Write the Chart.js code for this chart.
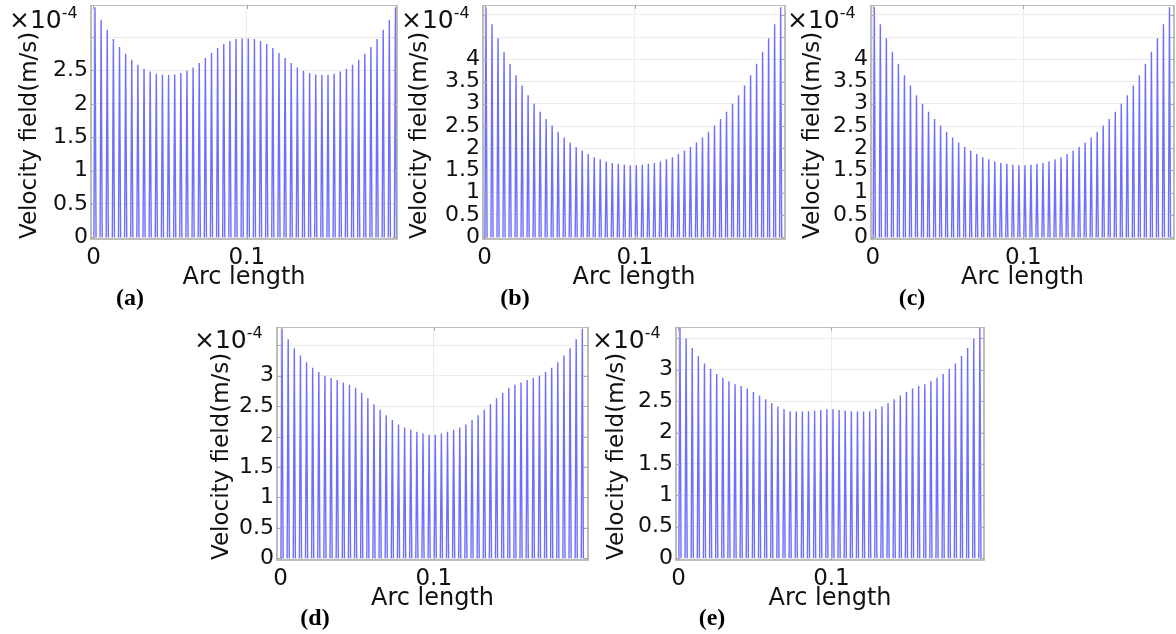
<!DOCTYPE html>
<html>
<head>
<meta charset="utf-8">
<script src="https://cdn.jsdelivr.net/npm/chart.js@4.4.1/dist/chart.umd.min.js"></script>
<style>
  html, body { margin: 0; padding: 0; background: #fff; overflow: hidden; }
  body { width: 1176px; height: 634px; position: relative; font-family: "DejaVu Sans", sans-serif; }
  canvas { position: absolute; }
  .exp { position: absolute; font-size: 25px; line-height: 1; color: #111; white-space: nowrap; }
  .exp sup { font-size: 16px; vertical-align: 0; position: relative; top: -10px; }
  .tag { position: absolute; width: 60px; text-align: center; line-height: 1;
         font-family: "Liberation Serif", serif; font-weight: bold; font-size: 24px; color: #000; }
</style>
</head>
<body>
<canvas id="pa"></canvas>
<canvas id="pb"></canvas>
<canvas id="pc"></canvas>
<canvas id="pd"></canvas>
<canvas id="pe"></canvas>

<div class="exp" style="left:9px;top:7px">×10<sup>-4</sup></div>
<div class="exp" style="left:401px;top:7px">×10<sup>-4</sup></div>
<div class="exp" style="left:787px;top:7px">×10<sup>-4</sup></div>
<div class="exp" style="left:194px;top:327px">×10<sup>-4</sup></div>
<div class="exp" style="left:592px;top:327px">×10<sup>-4</sup></div>

<div class="tag" style="left:100px;top:285px">(a)</div>
<div class="tag" style="left:485px;top:285px">(b)</div>
<div class="tag" style="left:882px;top:285px">(c)</div>
<div class="tag" style="left:285px;top:605px">(d)</div>
<div class="tag" style="left:682px;top:605px">(e)</div>

<script>
// ===== DATA (velocity in units of 1e-4 m/s) =====
const peakX = [0.001, 0.005, 0.009, 0.013, 0.017, 0.021, 0.025, 0.029, 0.033, 0.037,
               0.041, 0.045, 0.049, 0.053, 0.057, 0.061, 0.065, 0.069, 0.073, 0.077,
               0.081, 0.085, 0.089, 0.093, 0.097, 0.101, 0.105, 0.109, 0.113, 0.117,
               0.121, 0.125, 0.129, 0.133, 0.137, 0.141, 0.145, 0.149, 0.153, 0.157,
               0.161, 0.165, 0.169, 0.173, 0.177, 0.181, 0.185, 0.189, 0.193, 0.197];
const tickX = [0, 0.1];

const velA = [3.445, 3.26, 3.11, 2.97, 2.85, 2.75, 2.66, 2.585, 2.525, 2.485,
              2.45, 2.435, 2.43, 2.44, 2.46, 2.495, 2.545, 2.61, 2.685, 2.76,
              2.835, 2.895, 2.94, 2.97, 2.98, 2.98, 2.97, 2.94, 2.895, 2.835,
              2.76, 2.685, 2.61, 2.545, 2.495, 2.46, 2.44, 2.43, 2.435, 2.45,
              2.485, 2.525, 2.585, 2.66, 2.75, 2.85, 2.97, 3.11, 3.26, 3.445];
const velB = [5.17, 4.79, 4.47, 4.17, 3.90, 3.64, 3.41, 3.19, 3.00, 2.82,
              2.66, 2.51, 2.37, 2.24, 2.13, 2.03, 1.95, 1.87, 1.80, 1.75,
              1.70, 1.67, 1.65, 1.63, 1.62, 1.62, 1.63, 1.65, 1.67, 1.70,
              1.75, 1.80, 1.87, 1.95, 2.03, 2.13, 2.24, 2.37, 2.51, 2.66,
              2.82, 3.00, 3.19, 3.41, 3.64, 3.90, 4.17, 4.47, 4.79, 5.17];
const velC = [5.17, 4.79, 4.47, 4.17, 3.90, 3.64, 3.41, 3.19, 3.00, 2.82,
              2.66, 2.51, 2.37, 2.24, 2.13, 2.03, 1.95, 1.87, 1.80, 1.75,
              1.70, 1.67, 1.65, 1.63, 1.62, 1.62, 1.63, 1.65, 1.67, 1.70,
              1.75, 1.80, 1.87, 1.95, 2.03, 2.13, 2.24, 2.37, 2.51, 2.66,
              2.82, 3.00, 3.19, 3.41, 3.64, 3.90, 4.17, 4.47, 4.79, 5.17];
const velD = [3.77, 3.60, 3.45, 3.33, 3.22, 3.13, 3.06, 3.00, 2.96, 2.93,
              2.89, 2.85, 2.80, 2.72, 2.63, 2.53, 2.44, 2.35, 2.27, 2.20,
              2.15, 2.11, 2.08, 2.05, 2.03, 2.03, 2.05, 2.08, 2.11, 2.15,
              2.20, 2.27, 2.35, 2.44, 2.53, 2.63, 2.72, 2.80, 2.85, 2.89,
              2.93, 2.96, 3.00, 3.06, 3.13, 3.22, 3.33, 3.45, 3.60, 3.77];
const velE = [3.675, 3.495, 3.345, 3.22, 3.10, 3.01, 2.93, 2.87, 2.815, 2.77,
              2.74, 2.70, 2.645, 2.59, 2.53, 2.47, 2.415, 2.375, 2.34, 2.335,
              2.335, 2.34, 2.35, 2.36, 2.37, 2.37, 2.36, 2.35, 2.34, 2.335,
              2.335, 2.34, 2.375, 2.415, 2.47, 2.53, 2.59, 2.645, 2.70, 2.74,
              2.77, 2.815, 2.87, 2.93, 3.01, 3.10, 3.22, 3.345, 3.495, 3.675];

// ===== LAYOUT =====
const AXIS_W = 91;   // y axis + title strip
const AXIS_H = 56;   // x ticks + title strip
const spikeHalf = 0.0007;
const FONT = 'DejaVu Sans';

// each spike rises from zero to its peak and falls back
function spikes(vals) {
  const pts = [];
  peakX.forEach((x, i) => {
    pts.push({ x: x - spikeHalf, y: 0 }, { x: x, y: vals[i] }, { x: x + spikeHalf, y: 0 }, { x: x + spikeHalf, y: null });
  });
  return pts;
}

// grey box round the plot + small inner ticks
const framePlugin = {
  id: 'frame',
  afterDraw(chart) {
    const { ctx, chartArea: a, scales } = chart;
    ctx.save();
    ctx.strokeStyle = '#a8a8a8';
    ctx.lineWidth = 1;
    scales.y.ticks.forEach(t => {
      const py = Math.round(scales.y.getPixelForValue(t.value)) + 0.5;
      ctx.beginPath();
      ctx.moveTo(a.left, py); ctx.lineTo(a.left + 4, py);
      ctx.moveTo(a.right, py); ctx.lineTo(a.right - 4, py);
      ctx.stroke();
    });
    scales.x.ticks.forEach(t => {
      const px = Math.round(scales.x.getPixelForValue(t.value)) + 0.5;
      ctx.beginPath();
      ctx.moveTo(px, a.bottom); ctx.lineTo(px, a.bottom - 4);
      ctx.moveTo(px, a.top); ctx.lineTo(px, a.top + 4);
      ctx.stroke();
    });
    ctx.lineWidth = 1.5;
    ctx.strokeRect(a.left, a.top, a.right - a.left, a.bottom - a.top);
    ctx.restore();
  }
};

function makePanel(id, vals, p) {
  const cv = document.getElementById(id);
  const w = AXIS_W + (p.R - p.L) + 2;
  const h = (p.B - p.T) + AXIS_H;
  cv.width = w; cv.height = h;
  cv.style.width = w + 'px'; cv.style.height = h + 'px';
  cv.style.left = (p.L - AXIS_W) + 'px';
  cv.style.top = p.T + 'px';

  new Chart(cv, {
    type: 'line',
    data: {
      datasets: [{
        data: spikes(vals),
        borderColor: 'rgb(110,110,255)',
        borderWidth: 1.4,
        pointRadius: 0,
        tension: 0,
        spanGaps: false,
        fill: false
      }]
    },
    options: {
      responsive: false,
      animation: false,
      devicePixelRatio: 1,
      layout: { padding: { left: 0, right: 2, top: 0, bottom: 0 } },
      plugins: { legend: { display: false }, tooltip: { enabled: false } },
      scales: {
        x: {
          type: 'linear',
          min: p.xMin, max: p.xMax,
          afterBuildTicks: s => { s.ticks = tickX.map(v => ({ value: v })); },
          afterFit: s => { s.height = AXIS_H; s.paddingLeft = 0; s.paddingRight = 0; },
          grid: { color: '#ececec', drawTicks: false },
          border: { display: false },
          ticks: { padding: 5, color: '#111', autoSkip: false, maxRotation: 0,
                   font: { family: FONT, size: 23 } },
          title: { display: true, text: 'Arc length', color: '#111',
                   font: { family: FONT, size: 24 }, padding: { top: 0, bottom: 3 } }
        },
        y: {
          min: p.yMin, max: p.yMax,
          afterFit: s => { s.width = AXIS_W; s.paddingTop = 0; s.paddingBottom = 0; },
          grid: { color: '#ececec', drawTicks: false },
          border: { display: false },
          ticks: {
            stepSize: 0.5, includeBounds: false, padding: 3, color: '#111', autoSkip: false,
            font: { family: FONT, size: 22 },
            callback: v => (v <= p.labelMax + 1e-9 ? String(v) : '')
          },
          title: { display: true, text: 'Velocity field(m/s)', align: 'start', color: '#111',
                   font: { family: FONT, size: 23 }, padding: { top: p.titlePad, bottom: 0 } }
        }
      }
    },
    plugins: [framePlugin]
  });
}

makePanel('pa', velA, { L: 91, T: 5, R: 397, B: 239, xMin: -0.0016, xMax: 0.198, yMin: -0.025, yMax: 3.48, labelMax: 2.5, titlePad: 16 });
makePanel('pb', velB, { L: 483, T: 5, R: 785, B: 239, xMin: -0.001, xMax: 0.1999, yMin: -0.04, yMax: 5.22, labelMax: 4, titlePad: 14 });
makePanel('pc', velC, { L: 871, T: 5, R: 1174, B: 239, xMin: -0.0012, xMax: 0.2, yMin: -0.04, yMax: 5.22, labelMax: 4, titlePad: 19 });
makePanel('pd', velD, { L: 277, T: 327, R: 588, B: 560, xMin: -0.0023, xMax: 0.2007, yMin: -0.028, yMax: 3.8, labelMax: 3, titlePad: 22 });
makePanel('pe', velE, { L: 676, T: 327, R: 984, B: 560, xMin: -0.0016, xMax: 0.1997, yMin: -0.03, yMax: 3.68, labelMax: 3, titlePad: 18 });
</script>
</body>
</html>
